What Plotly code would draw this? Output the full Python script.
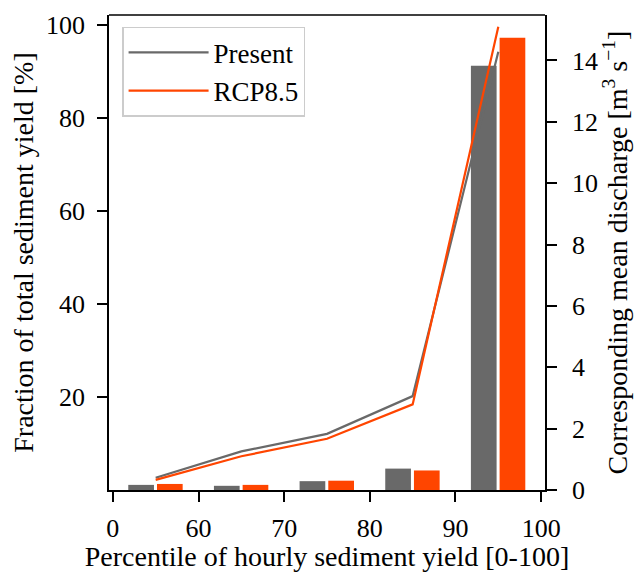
import plotly.graph_objects as go

percentiles = [55, 65, 75, 85, 95]
tick_vals = [50, 60, 70, 80, 90, 100]
tick_text = ["0", "60", "70", "80", "90", "100"]

sed_present = [1.1, 0.9, 1.9, 4.6, 91.2]
sed_rcp = [1.3, 1.1, 2.0, 4.2, 97.2]

q_present = [0.40, 1.26, 1.83, 3.06, 14.28]
q_rcp = [0.33, 1.10, 1.67, 2.79, 15.10]

GRAY = "#696969"
ORANGE = "#FF4500"
FONT = "Liberation Serif"
TICK_SIZE = 26
TITLE_SIZE = 28

fig = go.Figure()
fig.add_trace(go.Bar(x=percentiles, y=sed_present, width=3.0, offset=-3.2,
                     marker=dict(color=GRAY, line=dict(width=0)), showlegend=False))
fig.add_trace(go.Bar(x=percentiles, y=sed_rcp, width=3.0, offset=0.15,
                     marker=dict(color=ORANGE, line=dict(width=0)), showlegend=False))
fig.add_trace(go.Scatter(x=percentiles, y=q_present, mode="lines", name="Present",
                         line=dict(color=GRAY, width=2.2), yaxis="y2"))
fig.add_trace(go.Scatter(x=percentiles, y=q_rcp, mode="lines", name="RCP8.5",
                         line=dict(color=ORANGE, width=2.2), yaxis="y2"))

axis_common = dict(showgrid=False, zeroline=False, showline=True, linecolor="black",
                   linewidth=1.6, ticks="outside", ticklen=10, tickwidth=1.6,
                   tickcolor="black", automargin=False,
                   tickfont=dict(family=FONT, size=TICK_SIZE, color="black"))

fig.update_layout(
    width=643, height=572,
    margin=dict(l=109, r=98, t=15, b=82),
    plot_bgcolor="white", paper_bgcolor="white",
    font=dict(family=FONT, size=TITLE_SIZE, color="black"),
    barmode="overlay",
    xaxis=dict(range=[49.55, 100.45], tickvals=tick_vals, ticktext=tick_text,
               ticklabelstandoff=4,
               title=dict(text="Percentile of hourly sediment yield [0-100]",
                          font=dict(family=FONT, size=TITLE_SIZE), standoff=12),
               **axis_common),
    yaxis=dict(range=[0, 102.1], tickvals=[20, 40, 60, 80, 100],
               ticklabelstandoff=7,
               title=dict(text="Fraction of total sediment yield [%]",
                          font=dict(family=FONT, size=TITLE_SIZE), standoff=4),
               **axis_common),
    yaxis2=dict(range=[0, 15.48], overlaying="y", side="right",
                tickvals=[0, 2, 4, 6, 8, 10, 12, 14],
                ticklabelstandoff=10,
                title=dict(text="Corresponding mean discharge [m<sup>3</sup> s<sup>\u22121</sup>]",
                           font=dict(family=FONT, size=TITLE_SIZE), standoff=10),
                **axis_common),
    legend=dict(x=0.03, y=0.975, xanchor="left", yanchor="top",
                bgcolor="white", bordercolor="#cccccc", borderwidth=1.5,
                itemwidth=80, tracegroupgap=0,
                font=dict(family=FONT, size=27)),
    shapes=[dict(type="line", xref="paper", yref="paper", x0=0, x1=1, y0=1, y1=1,
                 line=dict(color="black", width=1.6))],
)

fig.write_html("out.html")
